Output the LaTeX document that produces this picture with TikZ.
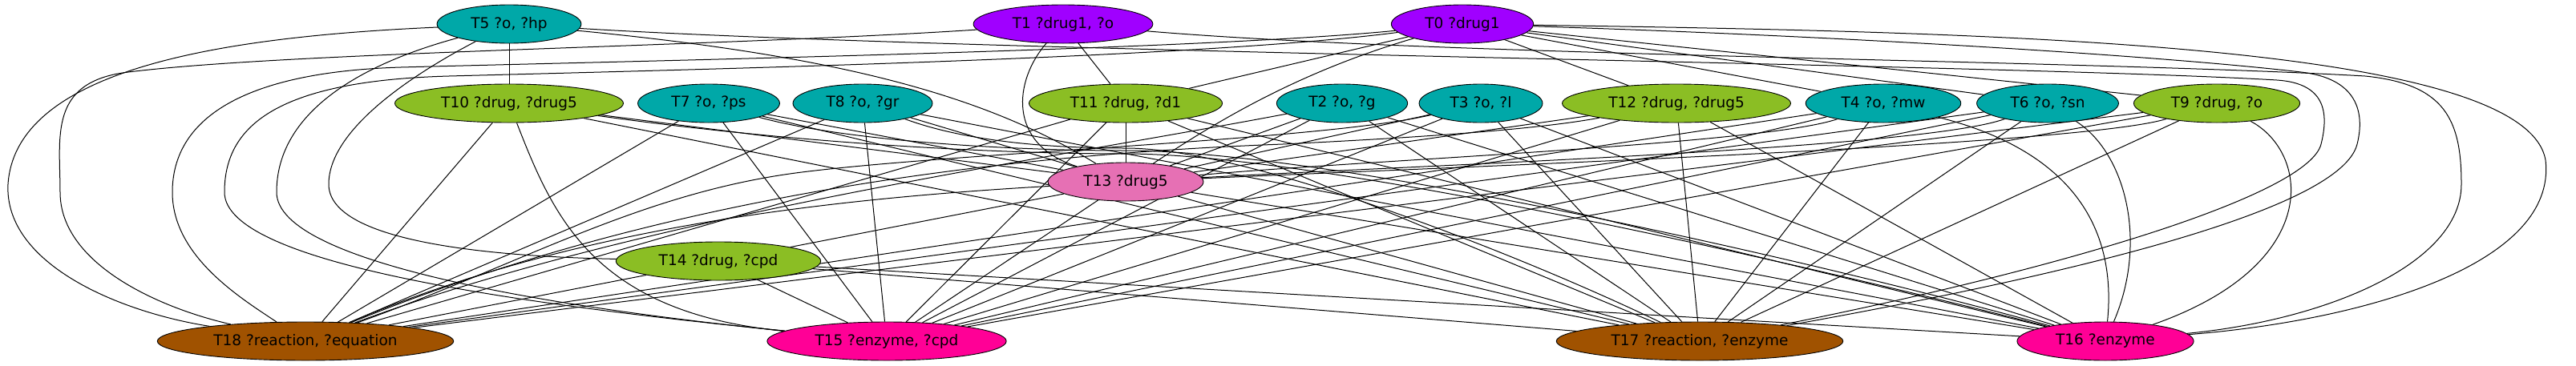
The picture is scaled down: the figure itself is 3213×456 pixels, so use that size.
\documentclass[tikz,border=0pt]{standalone}
\usepackage{fontspec}
\setmainfont{DejaVu Sans}
\usetikzlibrary{shapes.geometric, backgrounds}

\definecolor{ocolor}{RGB}{0,168,168}
\definecolor{drugonecolor}{RGB}{160,0,255}
\definecolor{drugcolor}{RGB}{139,190,36}
\definecolor{drugfivecolor}{RGB}{230,112,180}
\definecolor{enzcolor}{RGB}{255,0,150}
\definecolor{reaccolor}{RGB}{160,82,0}

\tikzset{
  tp/.style={ellipse, draw=black, line width=0.9pt, minimum height=48pt,
    inner xsep=16pt, inner ysep=0pt, font=\fontsize{18.5}{20}\selectfont},
  onode/.style={tp, fill=ocolor},
  drugone/.style={tp, fill=drugonecolor},
  drugnode/.style={tp, fill=drugcolor},
  drugfive/.style={tp, fill=drugfivecolor},
  enznode/.style={tp, fill=enzcolor},
  reacnode/.style={tp, fill=reaccolor},
  link/.style={line width=1pt}
}

\begin{document}
\begin{tikzpicture}[x=1pt, y=-1pt]
    \useasboundingbox (0,0) rectangle (3213,456);
    % rank 0
    \node (T5) at (635,30) [onode] {T5 ?o, ?hp};
    \node (T1) at (1326,30) [drugone] {T1 ?drug1, ?o};
    \node (T0) at (1824,30) [drugone] {T0 ?drug1};
    % rank 1
    \node (T10) at (635,129) [drugnode] {T10 ?drug, ?drug5};
    \node (T7) at (884,129) [onode] {T7 ?o, ?ps};
    \node (T8) at (1076,129) [onode] {T8 ?o, ?gr};
    \node (T11) at (1404,129) [drugnode] {T11 ?drug, ?d1};
    \node (T2) at (1674,129) [onode] {T2 ?o, ?g};
    \node (T3) at (1847,129) [onode] {T3 ?o, ?l};
    \node (T12) at (2091,129) [drugnode] {T12 ?drug, ?drug5};
    \node (T4) at (2349,129) [onode] {T4 ?o, ?mw};
    \node (T6) at (2554,129) [onode] {T6 ?o, ?sn};
    \node (T9) at (2765,129) [drugnode] {T9 ?drug, ?o};
    % rank 2 and 3
    \node (T13) at (1404,227) [drugfive] {T13 ?drug5};
    \node (T14) at (896,326) [drugnode] {T14 ?drug, ?cpd};
    % rank 4
    \node (T18) at (381,426) [reacnode] {T18 ?reaction, ?equation};
    \node (T15) at (1106,426) [enznode] {T15 ?enzyme, ?cpd};
    \node (T17) at (2120,426) [reacnode] {T17 ?reaction, ?enzyme};
    \node (T16) at (2626,426) [enznode] {T16 ?enzyme};

    \begin{pgfonlayer}{background}
    % rank 0 to rank 1
    \draw [link] (T5) -- (T10);
    \draw [link] (T1) -- (T11);
    \draw [link] (T0) -- (T11);
    \draw [link] (T0) -- (T12);
    \draw [link] (T0) -- (T4);
    \draw [link] (T0) -- (T6);
    \draw [link] (T0) -- (T9);
    % into T13
    \draw [link] (T5) .. controls (1050,70) and (1230,120) .. (T13);
    \draw [link] (T1) .. controls (1265,100) and (1255,180) .. (T13);
    \draw [link] (T0) .. controls (1620,90) and (1520,150) .. (T13);
    \draw [link] (T10) -- (T13);
    \draw [link] (T7) -- (T13);
    \draw [link] (T8) -- (T13);
    \draw [link] (T11) -- (T13);
    \draw [link] (T2) -- (T13);
    \draw [link] (T3) -- (T13);
    \draw [link] (T12) -- (T13);
    \draw [link] (T4) .. controls (2200,180) and (1700,200) .. (T13);
    \draw [link] (T6) .. controls (2400,185) and (1800,205) .. (T13);
    \draw [link] (T9) .. controls (2600,180) and (1900,205) .. (T13);
    % round the left side
    \draw [link] (T5) .. controls (300,45) and (20,80) .. (10,230) .. controls (5,330) and (150,390) .. (T18);
    \draw [link] (T1) .. controls (900,58) and (360,65) .. (160,90) .. controls (60,102) and (75,170) .. (75,240) .. controls (75,330) and (200,385) .. (T18);
    \draw [link] (T0) .. controls (1500,62) and (800,76) .. (500,84) .. controls (300,90) and (215,150) .. (215,240) .. controls (215,320) and (300,372) .. (T18);
    \draw [link] (T0) .. controls (1500,72) and (900,86) .. (560,95) .. controls (340,101) and (280,160) .. (280,240) .. controls (280,330) and (650,380) .. (T15);
    \draw [link] (T5) .. controls (450,80) and (345,140) .. (345,240) .. controls (345,330) and (700,385) .. (T15);
    \draw [link] (T5) .. controls (520,90) and (410,160) .. (410,230) .. controls (410,300) and (600,320) .. (T14);
    % round the right side
    \draw [link] (T5) .. controls (1200,65) and (2500,80) .. (2840,100) .. controls (2900,104) and (2905,140) .. (2895,180) .. controls (2880,240) and (2600,330) .. (T17);
    \draw [link] (T1) .. controls (1800,70) and (2600,75) .. (2950,95) .. controls (3050,105) and (3070,150) .. (3070,230) .. controls (3070,330) and (2900,400) .. (T16);
    \draw [link] (T0) .. controls (2300,45) and (2700,70) .. (2870,90) .. controls (2940,98) and (2950,140) .. (2940,180) .. controls (2920,260) and (2600,340) .. (T17);
    \draw [link] (T0) .. controls (2500,40) and (3150,55) .. (3175,200) .. controls (3190,330) and (2950,400) .. (T16);
    \draw [link] (T9) .. controls (2880,190) and (2900,330) .. (T16);
    \draw [link] (T6) .. controls (2650,190) and (2680,300) .. (T16);
    \draw [link] (T4) .. controls (2590,190) and (2640,290) .. (T16);
    % rank 1 to rank 4
    \draw [link] (T10) -- (T18);
    \draw [link] (T10) .. controls (690,270) and (740,390) .. (T15);
    \draw [link] (T10) -- (T17);
    \draw [link] (T10) .. controls (1000,180) and (1250,192) .. (1404,192) .. controls (1650,192) and (2250,330) .. (T16);
    \draw [link] (T7) -- (T18);
    \draw [link] (T7) -- (T15);
    \draw [link] (T7) -- (T17);
    \draw [link] (T7) .. controls (1050,175) and (1250,188) .. (1404,188) .. controls (1660,188) and (2260,325) .. (T16);
    \draw [link] (T8) -- (T18);
    \draw [link] (T8) -- (T15);
    \draw [link] (T8) .. controls (1200,175) and (1300,185) .. (1404,185) .. controls (1560,185) and (1900,320) .. (T17);
    \draw [link] (T8) -- (T16);
    \draw [link] (T11) -- (T18);
    \draw [link] (T11) -- (T15);
    \draw [link] (T11) -- (T17);
    \draw [link] (T11) -- (T16);
    \draw [link] (T2) .. controls (1300,200) and (800,270) .. (T18);
    \draw [link] (T2) -- (T15);
    \draw [link] (T2) -- (T17);
    \draw [link] (T2) -- (T16);
    \draw [link] (T3) .. controls (1650,175) and (1200,190) .. (1000,215) .. controls (800,240) and (650,330) .. (T18);
    \draw [link] (T3) -- (T15);
    \draw [link] (T3) -- (T17);
    \draw [link] (T3) -- (T16);
    \draw [link] (T12) .. controls (1900,165) and (1700,175) .. (1600,180) .. controls (1200,195) and (800,255) .. (T18);
    \draw [link] (T12) -- (T15);
    \draw [link] (T12) -- (T17);
    \draw [link] (T12) -- (T16);
    \draw [link] (T4) -- (T18);
    \draw [link] (T4) -- (T15);
    \draw [link] (T4) -- (T17);
    \draw [link] (T6) -- (T18);
    \draw [link] (T6) -- (T15);
    \draw [link] (T6) -- (T17);
    \draw [link] (T9) -- (T18);
    \draw [link] (T9) -- (T15);
    \draw [link] (T9) -- (T17);
    % T13 and T14 down
    \draw [link] (T13) -- (T14);
    \draw [link] (T13) .. controls (1000,250) and (700,290) .. (T18);
    \draw [link] (T13) -- (T15);
    \draw [link] (T13) -- (T17);
    \draw [link] (T13) -- (T16);
    \draw [link] (T14) -- (T18);
    \draw [link] (T14) -- (T15);
    \draw [link] (T14) -- (T17);
    \draw [link] (T14) -- (T16);
    \end{pgfonlayer}
\end{tikzpicture}
\end{document}
